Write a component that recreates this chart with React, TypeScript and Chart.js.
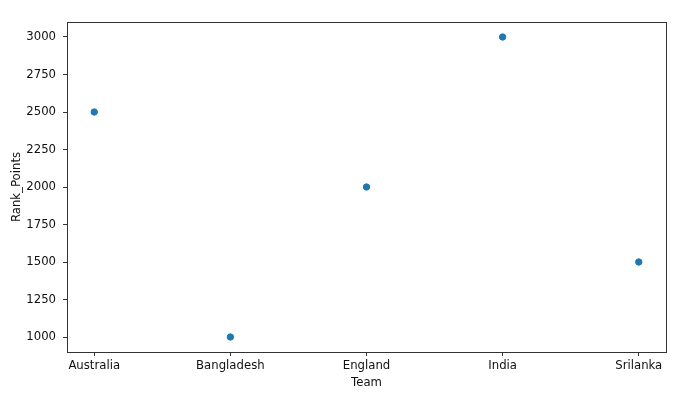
import React, { useEffect, useRef } from "react";
import { Chart, registerables } from "chart.js";

Chart.register(...registerables);

const teams = ["Australia", "Bangladesh", "England", "India", "Srilanka"];
const rankPoints = [2500, 1000, 2000, 3000, 1500];
const yTicks = [1000, 1250, 1500, 1750, 2000, 2250, 2500, 2750, 3000];

const FONT = "'DejaVu Sans', sans-serif";
const FS = 11.7;
const TEXT = "#111";

const framePlugin = {
  id: "frame",
  afterDraw(chart: any) {
    const { ctx, chartArea } = chart;
    ctx.save();
    ctx.strokeStyle = "#333";
    ctx.lineWidth = 1;
    ctx.strokeRect(
      Math.round(chartArea.left) + 0.5,
      Math.round(chartArea.top) + 0.5,
      Math.round(chartArea.right - chartArea.left),
      Math.round(chartArea.bottom - chartArea.top)
    );
    ctx.restore();
  },
};

export default function App() {
  const ref = useRef<HTMLCanvasElement>(null);
  useEffect(() => {
    document.body.style.margin = "0";
    const chart = new Chart(ref.current!, {
      type: "scatter",
      data: {
        datasets: [
          {
            data: teams.map((t, i) => ({ x: i, y: rankPoints[i] })),
            backgroundColor: "#1f77b4",
            borderColor: "#1f77b4",
            pointRadius: 3.2,
            pointHoverRadius: 3.2,
          },
        ],
      },
      options: {
        animation: false,
        responsive: false,
        layout: { padding: { left: 0, right: 34, top: 22, bottom: 0 } },
        plugins: { legend: { display: false }, tooltip: { enabled: false } },
        scales: {
          x: {
            type: "linear",
            min: -0.2,
            max: 4.2,
            afterBuildTicks: (s: any) => {
              s.ticks = teams.map((_, i) => ({ value: i }));
            },
            afterFit: (s: any) => {
              s.height = 44;
            },
            grid: { drawOnChartArea: false, drawTicks: true, tickLength: 4, color: "#333" },
            border: { display: true, color: "#333" },
            ticks: {
              color: TEXT,
              font: { family: FONT, size: FS },
              padding: 3,
              maxRotation: 0,
              autoSkip: false,
              callback: (v: any) => teams[Math.round(Number(v))] ?? "",
            },
            title: {
              display: true,
              text: "Team",
              color: TEXT,
              font: { family: FONT, size: FS },
              padding: { top: 0, bottom: 6 },
            },
          },
          y: {
            type: "linear",
            min: 900,
            max: 3100,
            afterBuildTicks: (s: any) => {
              s.ticks = yTicks.map((v) => ({ value: v }));
            },
            afterFit: (s: any) => {
              s.width = 67;
            },
            grid: { drawOnChartArea: false, drawTicks: true, tickLength: 4, color: "#333" },
            border: { display: true, color: "#333" },
            ticks: {
              color: TEXT,
              font: { family: FONT, size: FS },
              padding: 7,
              autoSkip: false,
              callback: (v: any) => String(v),
            },
            title: {
              display: true,
              text: "Rank_Points",
              color: TEXT,
              font: { family: FONT, size: FS },
              padding: { top: 9.5, bottom: 0 },
            },
          },
        },
      },
      plugins: [framePlugin],
    });
    return () => chart.destroy();
  }, []);
  return (
    <div style={{ width: 700, height: 396 }}>
      <canvas ref={ref} width={700} height={396} style={{ display: "block" }} />
    </div>
  );
}
